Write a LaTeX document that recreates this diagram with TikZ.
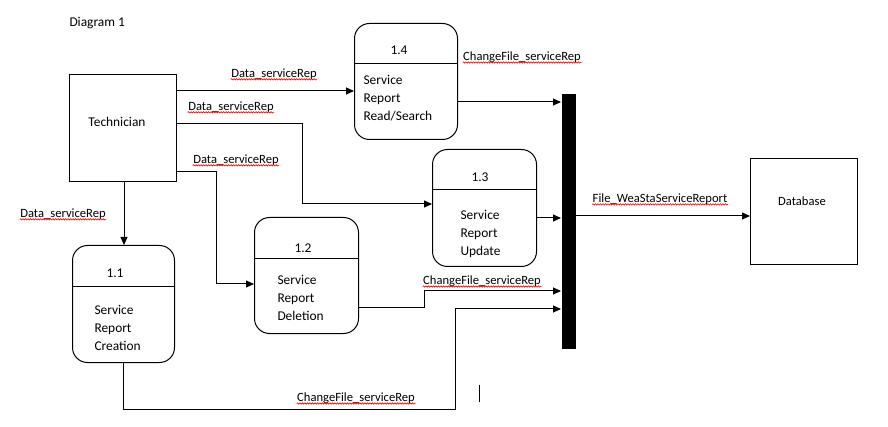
\documentclass[tikz,border=0pt]{standalone}
\usepackage{fontspec}
\setmainfont{Carlito}
\usetikzlibrary{arrows.meta,decorations.pathmorphing}
\begin{document}
\begin{tikzpicture}[x=1pt,y=-1pt,line width=1pt,
  proc/.style={draw,rounded corners=15pt,anchor=north west,inner sep=0pt},
  ent/.style={draw,anchor=north west,inner sep=0pt},
  btxt/.style={font=\fontsize{13.4}{18}\selectfont,inner sep=0pt},
  arr/.style={-{Triangle[length=8pt,width=7pt]}},
  wavy/.style={draw=red,line width=0.6pt,decorate,decoration={snake,amplitude=0.7pt,segment length=2.5pt}},
  lbl/.style={font=\fontsize{12.6}{14}\selectfont,inner sep=0pt,
    append after command={([yshift=0.5pt]\tikzlastnode.south west) edge[wavy] ([yshift=0.5pt]\tikzlastnode.south east)}}]
\useasboundingbox (0,0) rectangle (888,427);

\node[btxt,anchor=west] (title) at (69,23) {Diagram 1};

% entities
\node[ent,minimum width=107pt,minimum height=107pt] (tech) at (69,74) {};
\node[btxt] (techt) at (117,122) {Technician};
\node[ent,minimum width=107pt,minimum height=106pt] (db) at (750,158) {};
\node[btxt,font=\fontsize{12.6}{14}\selectfont] (dbt) at (802,201) {Database};

% data store bar
\node[fill=black,anchor=north west,inner sep=0pt,minimum width=14pt,minimum height=254pt] (bar) at (561,94) {};

% processes
\node[proc,minimum width=103pt,minimum height=116pt] (p14) at (354,23) {};
\draw (p14.west |- 0,64) -- (p14.east |- 0,64);
\node[btxt] (n14) at (399,50) {1.4};
\node[btxt,anchor=north west,align=left] (t14) at (363,75) {Service\\Report\\Read/Search};

\node[proc,minimum width=104pt,minimum height=117pt] (p13) at (432,149) {};
\draw (p13.west |- 0,190) -- (p13.east |- 0,190);
\node[btxt] (n13) at (480,177) {1.3};
\node[btxt,anchor=north west,align=left] (t13) at (460,210) {Service\\Report\\Update};

\node[proc,minimum width=104pt,minimum height=116pt] (p12) at (254,217) {};
\draw (p12.west |- 0,259) -- (p12.east |- 0,259);
\node[btxt] (n12) at (303,248) {1.2};
\node[btxt,anchor=north west,align=left] (t12) at (277,275) {Service\\Report\\Deletion};

\node[proc,minimum width=102pt,minimum height=117pt] (p11) at (72,245) {};
\draw (p11.west |- 0,287) -- (p11.east |- 0,287);
\node[btxt] (n11) at (115,273) {1.1};
\node[btxt,anchor=north west,align=left] (t11) at (94,305) {Service\\Report\\Creation};

% connectors
\draw[arr] (tech.east |- 0,91) -- (p14.west |- 0,91);
\draw[arr] (tech.east |- 0,124) -- (302,124) -- (302,204) -- (p13.west |- 0,204);
\draw[arr] (tech.east |- 0,172) -- (216,172) -- (216,284) -- (p12.west |- 0,284);
\draw[arr] (tech.south -| 124,0) -- (p11.north -| 124,0);
\draw[arr] (p14.east |- 0,102) -- (bar.west |- 0,102);
\draw[arr] (p13.east |- 0,218) -- (bar.west |- 0,218);
\draw[arr] (p12.east |- 0,308) -- (424,308) -- (424,291) -- (bar.west |- 0,291);
\draw[arr] (p11.south -| 123,0) -- (123,409) -- (455,409) -- (455,309) -- (bar.west |- 0,309);
\draw[arr] (bar.east |- 0,216) -- (db.west |- 0,216);

% labels
\node[lbl] (l1) at (274,74) {Data\_serviceRep};
\node[lbl] (l2) at (231,107) {Data\_serviceRep};
\node[lbl] (l3) at (236,160) {Data\_serviceRep};
\node[lbl] (l4) at (63,214) {Data\_serviceRep};
\node[lbl] (c1) at (522,57) {ChangeFile\_serviceRep};
\node[lbl] (c2) at (482,281) {ChangeFile\_serviceRep};
\node[lbl] (c3) at (356,398) {ChangeFile\_serviceRep};
\node[lbl] (f1) at (660,199) {File\_WeaStaServiceReport};

% stray text cursor
\draw (479,385) -- (479,402);
\end{tikzpicture}
\end{document}
